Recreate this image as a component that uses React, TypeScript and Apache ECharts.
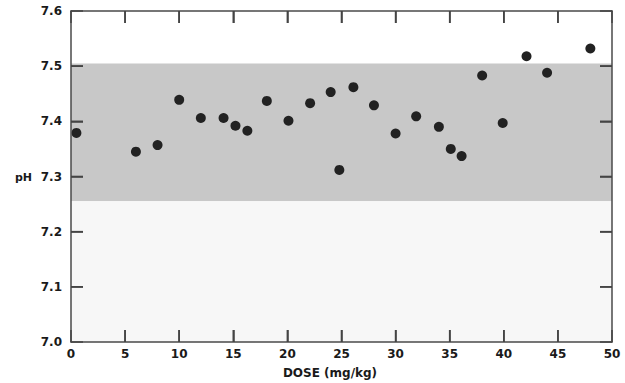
import React, { useEffect, useRef } from "react";
import * as echarts from "echarts";

const doses = [0.5, 6.0, 8.0, 10.0, 12.0, 14.1, 15.2, 16.3, 18.1, 20.1, 22.1, 24.0, 24.8, 26.1, 28.0, 30.0, 31.9, 34.0, 35.1, 36.1, 38.0, 39.9, 42.1, 44.0, 48.0];
const phValues = [7.379, 7.345, 7.357, 7.439, 7.406, 7.406, 7.392, 7.383, 7.437, 7.401, 7.433, 7.453, 7.312, 7.462, 7.429, 7.378, 7.409, 7.39, 7.35, 7.337, 7.483, 7.397, 7.518, 7.488, 7.532];
const normalRange = [7.255, 7.505];
const xTickValues = [5, 10, 15, 20, 25, 30, 35, 40, 45];
const yTickValues = [7.1, 7.2, 7.3, 7.4, 7.5];
const xName = "DOSE (mg/kg)";
const yName = "pH";

export default function App() {
  const ref = useRef<HTMLDivElement>(null);
  useEffect(() => {
    if (!ref.current) return;
    const chart = echarts.init(ref.current, null, { renderer: "svg" });
    const lineColor = "#4a4a4a";
    const tickColor = "#444";
    const tickLen = 12;
    const tickW = 1.6;
    const labelStyle = {
      fontFamily: "DejaVu Sans",
      fontWeight: "bold" as const,
      fontSize: 12,
      color: "#1a1a1a",
    };
    const mkLine = () => ({ show: true, onZero: false, lineStyle: { color: lineColor, width: 1.5 } });
    const mkTick = () => ({ show: true, inside: true, length: tickLen, lineStyle: { color: tickColor, width: 1.5 } });
    const texts: any[] = [
      {
        type: "text",
        left: 15,
        top: 172,
        style: { text: yName, ...labelStyle, fill: "#1a1a1a", fontSize: 11 },
      },
      {
        type: "text",
        x: 330,
        y: 373,
        style: {
          text: xName,
          ...labelStyle,
          fill: "#1a1a1a",
          fontSize: 12,
          align: "center",
          verticalAlign: "middle",
        },
      },
    ];
    chart.setOption({
      animation: false,
      backgroundColor: "#fff",
      grid: { left: 71, right: 13, top: 11, bottom: 41, containLabel: false },
      xAxis: [
        {
          type: "value",
          min: 0,
          max: 50,
          interval: 5,
          position: "bottom",
          z: 10,
          axisLine: mkLine(),
          axisTick: mkTick(),
          splitLine: { show: false },
          axisLabel: { ...labelStyle, margin: 6 },
        },
        {
          type: "value",
          min: 0,
          max: 50,
          interval: 5,
          position: "top",
          z: 10,
          axisLine: mkLine(),
          axisTick: mkTick(),
          splitLine: { show: false },
          axisLabel: { show: false },
        },
      ],
      yAxis: [
        {
          type: "value",
          min: 7.0,
          max: 7.6,
          interval: 0.1,
          position: "left",
          z: 10,
          axisLine: mkLine(),
          axisTick: mkTick(),
          splitLine: { show: false },
          axisLabel: { ...labelStyle, margin: 9, formatter: (v: number) => v.toFixed(1) },
        },
        {
          type: "value",
          min: 7.0,
          max: 7.6,
          interval: 0.1,
          position: "right",
          z: 10,
          axisLine: mkLine(),
          axisTick: mkTick(),
          splitLine: { show: false },
          axisLabel: { show: false },
        },
      ],
      graphic: texts,
      series: [
        {
          type: "line",
          xAxisIndex: 0,
          yAxisIndex: 0,
          data: [],
          z: 1,
          silent: true,
          markArea: {
            silent: true,
            z: 1,
            data: [
              [
                { yAxis: normalRange[0], itemStyle: { color: "#c8c8c8" } },
                { yAxis: normalRange[1] },
              ],
              [
                { yAxis: 7.0, itemStyle: { color: "#f7f7f7" } },
                { yAxis: normalRange[0] },
              ],
            ],
          },
        },
        {
          type: "scatter",
          xAxisIndex: 0,
          yAxisIndex: 0,
          data: doses.map((d, i) => [d, phValues[i]]),
          symbolSize: 10,
          itemStyle: { color: "#222", opacity: 1 },
          z: 5,
        },
      ],
    });

    // Tick marks drawn as thin filled rectangles at pixel positions from the chart's own scales
    const bar = (x: number, y: number, w: number, h: number) => ({
      type: "rect",
      z: 100,
      silent: true,
      shape: { x, y, width: w, height: h },
      style: { fill: tickColor },
    });
    const ticks: any[] = [];
    const toPx = (v: [number, number]) =>
      chart.convertToPixel({ xAxisIndex: 0, yAxisIndex: 0 }, v) as number[];
    xTickValues.forEach((v) => {
      const b = toPx([v, 7.0]);
      const t = toPx([v, 7.6]);
      if (b && t) {
        ticks.push(bar(b[0] - tickW / 2, b[1] - tickLen, tickW, tickLen));
        ticks.push(bar(t[0] - tickW / 2, t[1], tickW, tickLen));
      }
    });
    yTickValues.forEach((v) => {
      const l = toPx([0, v]);
      const r = toPx([50, v]);
      if (l && r) {
        ticks.push(bar(l[0], l[1] - tickW / 2, tickLen, tickW));
        ticks.push(bar(r[0] - tickLen, r[1] - tickW / 2, tickLen, tickW));
      }
    });
    chart.setOption({ graphic: [...texts, ...ticks] }, { replaceMerge: ["graphic"] });

    return () => chart.dispose();
  }, []);
  return <div ref={ref} style={{ width: 625, height: 383, position: "absolute", left: 0, top: 0 }} />;
}
